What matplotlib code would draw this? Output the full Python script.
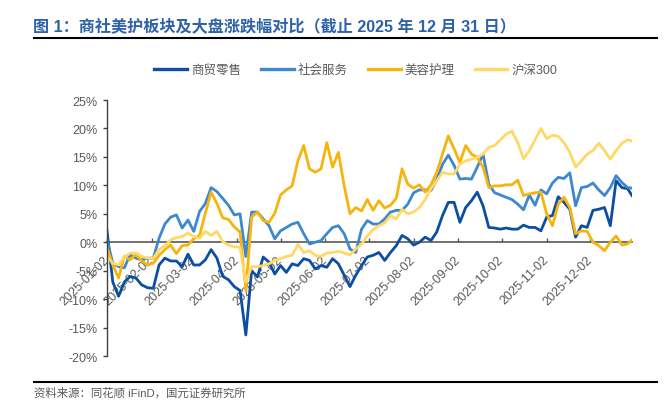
import numpy as np
import pandas as pd
import matplotlib
matplotlib.use('Agg')
import matplotlib.pyplot as plt
import matplotlib.dates as mdates
from matplotlib.lines import Line2D
from matplotlib.ticker import FuncFormatter, MultipleLocator

plt.rcParams['font.family'] = ['Liberation Sans', 'Noto Sans CJK SC']
plt.rcParams['axes.unicode_minus'] = False

# sampled every 4 calendar days from 2025-01-02, plus the last day of the year
dates = pd.date_range('2025-01-02', periods=91, freq='4D').append(pd.DatetimeIndex(['2025-12-31']))

retail = [2.0, -7.0, -9.5, -7.0, -6.0, -6.3, -7.5, -8.0, -8.1, -4.0, -2.8,
          -3.3, -3.3, -4.3, -2.1, -4.0, -4.0, -3.1, -1.3, -2.8, -6.0, -6.6, -7.8, -8.5,
          -16.3,
          -5.0, -6.1, -2.6, -3.5, -5.6, -4.1, -5.3, -3.8, -4.1, -2.9, -3.2, -4.7, -4.1, -4.4, -2.9, -3.8, -5.8, -7.8, -5.8, -4.1,
          -2.6, -2.3, -1.8, -3.2, -1.8, -0.6, 1.2, 0.6, -0.5, 0.0, 0.9, 0.3, 1.8, 4.7, 7.0, 7.0, 3.5, 6.1, 7.3, 8.8, 6.4, 2.6, 2.5, 2.3,
          2.5, 2.3, 2.3, 3.0, 2.6, 2.6, 2.0, 4.4, 4.7, 8.0, 7.0, 5.8, 0.9, 2.9, 2.6, 5.6, 5.8, 6.1, 2.9, 10.8, 9.6, 9.4, 8.2]

services = [0.5, -3.7, -4.3, -4.5, -2.2, -2.8, -3.1, -2.8, -2.8, 0.7, 3.2,
            4.4, 4.8, 2.5, 3.9, 1.9, 5.4, 6.8, 9.6, 8.9, 7.7, 6.5, 4.8, 5.0,
            -2.5,
            5.3, 5.3, 4.1, 2.9, 0.6, 2.0, 2.6, 3.2, 3.5, 1.5, -0.3, 0.0, 0.3, 1.5, 2.6, 2.9, 1.5, -1.2, -1.8, 2.3,
            3.8, 3.2, 3.2, 4.1, 5.3, 5.6, 5.6, 6.7, 8.7, 9.2, 9.2, 9.1, 11.0, 13.7, 15.3, 13.5, 11.1, 11.2, 11.1, 13.2, 15.5, 10.2, 8.7, 8.3,
            7.9, 7.5, 6.7, 5.7, 8.3, 6.5, 9.2, 8.5, 10.4, 11.4, 11.2, 12.2, 6.4, 9.6, 9.8, 10.4, 9.2, 8.2, 9.6, 11.7, 10.5, 9.6, 9.5]

beauty = [-1.0, -4.0, -6.3, -2.5, -3.1, -2.1, -3.3, -4.0, -3.7, -2.3, -1.3,
          -0.5, -2.0, -0.6, -0.5, 0.6, 1.2, 5.1, 8.8, 6.8, 4.3, 4.0, 2.7, 1.8,
          -8.5,
          4.4, 5.3, 3.8, 3.5, 5.1, 8.3, 9.2, 9.9, 14.3, 17.0, 12.9, 12.3, 12.9, 17.5, 13.2, 15.8, 9.9, 5.0, 6.1, 5.5,
          7.5, 5.6, 7.3, 6.0, 6.5, 7.7, 12.9, 10.2, 9.5, 10.1, 8.8, 10.1, 12.3, 15.5, 18.7, 16.4, 14.0, 17.0, 15.5, 14.9, 13.2, 9.6, 9.9, 9.9,
          10.1, 10.1, 10.9, 8.2, 8.5, 8.7, 8.8, 5.0, 2.9, 6.7, 7.9, 6.1, 1.5, 2.0, 1.9, 0.0, -0.6, -1.5, 0.0, 1.1, -0.5, -0.3, 0.4]

hs300 = [-2.5, -3.7, -4.0, -2.7, -1.9, -1.9, -2.5, -2.8, -2.8, -1.3, -0.6,
         0.4, 0.8, 1.0, 1.6, 1.0, 0.7, 1.9, 1.2, 1.9, 0.1, -0.5, -0.8, -0.9,
         -7.0,
         -4.3, -4.3, -4.1, -3.8, -3.2, -2.9, -2.5, -2.3, -0.4, -1.8, -1.5, -2.3, -2.5, -1.9, -1.8, -1.6, -1.9, -2.2, -1.2, -0.3,
         1.1, 2.2, 2.9, 3.4, 4.7, 4.1, 5.8, 5.0, 5.3, 6.1, 7.5, 9.4, 10.8, 12.3, 12.0, 12.0, 13.7, 14.3, 14.6, 14.9, 15.5, 16.7, 17.0, 18.0,
         19.0, 19.5, 17.5, 14.7, 16.1, 18.0, 20.0, 18.2, 18.8, 18.6, 17.5, 15.8, 13.2, 14.3, 15.5, 16.1, 17.4, 16.1, 14.6, 16.1, 17.4, 18.0, 17.8]

names = ['商贸零售', '社会服务', '美容护理', '沪深300']
colors = ['#0B4EA2', '#3D88CF', '#F6B40E', '#FFD966']
gray = '#595959'

fig = plt.figure(figsize=(6.72, 4.14), dpi=100)
ax = fig.add_axes([107/672, 1-357/414, 525/672, 256/414])

for vals, name, c in zip([retail, services, beauty, hs300], names, colors):
    ax.plot(dates, vals, color=c, lw=2.0, label=name, solid_joinstyle='round')

ax.set_xlim(pd.Timestamp('2025-01-02'), pd.Timestamp('2025-12-31'))
ax.set_ylim(-20, 25)
ax.yaxis.set_major_locator(MultipleLocator(5))
ax.yaxis.set_major_formatter(FuncFormatter(lambda v, p: f'{v:.0f}%'))
ax.xaxis.set_major_locator(mdates.MonthLocator(bymonthday=2))
ax.xaxis.set_major_formatter(mdates.DateFormatter('%Y-%m-%d'))

for s in ['top', 'right']:
    ax.spines[s].set_visible(False)
ax.spines['bottom'].set_position(('data', 0))
ax.spines['bottom'].set_color(gray)
ax.spines['bottom'].set_linewidth(1.2)
ax.spines['left'].set_color('#404040')
ax.spines['left'].set_linewidth(1.0)
ax.spines['bottom'].set_zorder(1)

ax.tick_params(axis='y', direction='out', length=3, width=1, colors='#404040', labelcolor=gray, labelsize=9, pad=4)
ax.tick_params(axis='x', direction='in', length=3, width=1, colors=gray, labelcolor=gray, labelsize=9, pad=11)
for lbl in ax.get_xticklabels():
    lbl.set_rotation(45)
    lbl.set_ha('right')
    lbl.set_va('center')
    lbl.set_rotation_mode('anchor')

fig.legend(loc='center', bbox_to_anchor=(356/672, 1-71/414), ncol=4, frameon=False,
           fontsize=9, handlelength=2.6, handletextpad=0.35, columnspacing=1.6,
           labelcolor=gray)
for lh in fig.legends[0].get_lines():
    lh.set_linewidth(2.4)

fig.text(33/672, 1-26/414, '图 1：商社美护板块及大盘涨跌幅对比（截止 2025 年 12 月 31 日）',
         fontsize=11.6, fontweight='bold', color='#2E62A8', ha='left', va='center')
fig.add_artist(Line2D([34/672, 657/672], [1-39/414, 1-39/414], color='black', lw=1.5, transform=fig.transFigure))
fig.add_artist(Line2D([34/672, 657/672], [1-383/414, 1-383/414], color='black', lw=1.5, transform=fig.transFigure))
fig.text(34/672, 1-393/414, '资料来源：同花顺 iFinD，国元证券研究所', fontsize=8.2, color=gray, ha='left', va='center')

fig.savefig('out.png', dpi=100)
plt.close()
